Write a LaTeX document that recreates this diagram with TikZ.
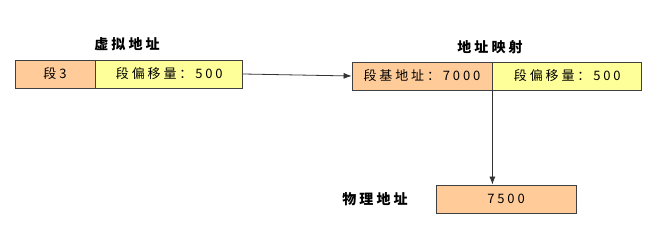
\documentclass[tikz,border=0pt]{standalone}
\usepackage{fontspec}
\setmainfont{Noto Sans CJK SC}
\usetikzlibrary{positioning,arrows.meta}

\definecolor{segorange}{HTML}{FFCC99}
\definecolor{offyellow}{HTML}{FFFF99}
\definecolor{boxline}{HTML}{404040}

\tikzstyle{segpart} = [rectangle, draw=boxline, fill=segorange, line width=0.8pt,
minimum height=28pt, inner sep=0pt, font=\fontsize{13}{15}\selectfont\addfontfeatures{LetterSpace=22}]
\tikzstyle{offpart} = [rectangle, draw=boxline, fill=offyellow, line width=0.8pt,
minimum height=28pt, inner sep=0pt, font=\fontsize{13}{15}\selectfont\addfontfeatures{LetterSpace=22}]
\tikzstyle{title} = [font=\fontsize{14}{16}\selectfont\bfseries\addfontfeatures{LetterSpace=22}, inner sep=0pt]
\tikzstyle{arrow} = [line width=0.8pt, draw=black!80, -{Latex[length=8pt,width=6pt]}]

\begin{document}
\begin{tikzpicture}[x=1pt, y=-1pt]
	\useasboundingbox (0,0) rectangle (670,240);
	%nodes for virtual address
	\node[segpart, minimum width=80pt](seg1) at (55,74){段3};
	\node[offpart, minimum width=147pt, right=0pt of seg1](off1){段偏移量：500};
	\node[title](vtitle) at (127,44){虚拟地址};
	%nodes for mapping
	\node[segpart, minimum width=140pt](base2) at (422,76){段基地址：7000};
	\node[offpart, minimum width=149pt, right=0pt of base2](off2){段偏移量：500};
	\node[title](mtitle) at (490,47){地址映射};
	%nodes for physical address
	\node[segpart, minimum width=140pt](phys) at (506,199){7500};
	\node[title](ptitle) at (375,199){物理地址};

	%edges
	\path[arrow] (off1.east) -- (base2.west);
	\path[arrow] (base2.south east) -- (base2.south east |- phys.north);
\end{tikzpicture}
\end{document}
